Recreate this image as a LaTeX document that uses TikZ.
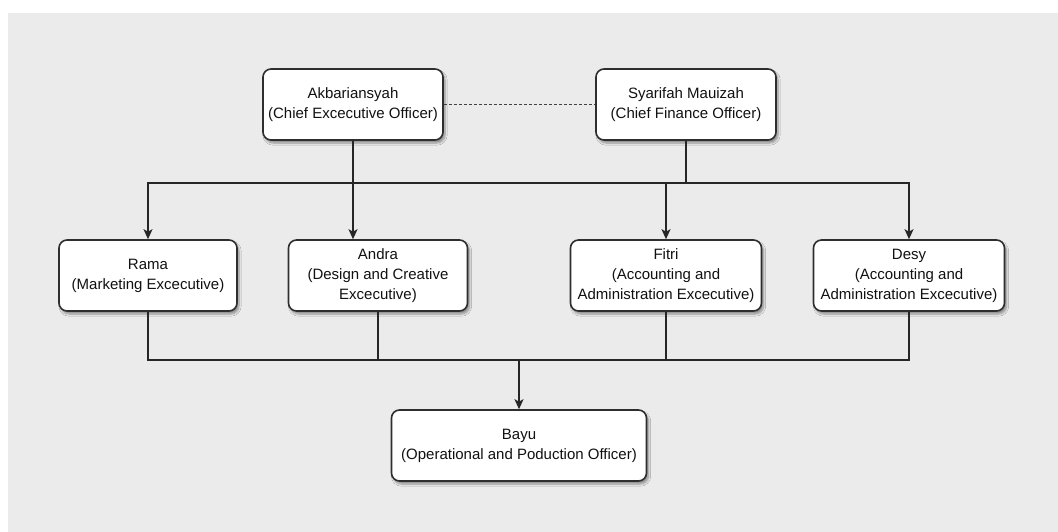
\documentclass[tikz,border=0pt]{standalone}
\usepackage{fontspec}
\setmainfont{Liberation Sans}
\usetikzlibrary{arrows.meta,shadows.blur,calc}
\definecolor{bg}{HTML}{EBEBEB}
\definecolor{boxline}{HTML}{2E2E2E}
\definecolor{txt}{HTML}{111111}
\tikzset{
  person/.style={draw=boxline, line width=1.6pt, fill=white, rounded corners=8pt,
    minimum height=71pt, align=center, inner sep=2pt, text=txt,
    font=\fontsize{15}{20}\selectfont,
    blur shadow={shadow xshift=2pt, shadow yshift=-3pt, shadow blur steps=6, shadow opacity=40}},
  link/.style={draw=black!85, line width=1.6pt},
  arr/.style={link, -{Stealth[length=10pt,width=9pt,inset=2.5pt]}},
  partner/.style={draw=black!75, line width=1.6pt, dash pattern=on 3pt off 2pt}
}
\begin{document}
\begin{tikzpicture}[x=1pt,y=-1pt]
\useasboundingbox (0,0) rectangle (1058,532);
\fill[white] (0,0) rectangle (1058,532);
\fill[bg] (8,13) rectangle (1058,532);

\node[person, minimum width=180pt] (ceo) at (353,104.5) {Akbariansyah\\(Chief Excecutive Officer)};
\node[person, minimum width=180pt] (cfo) at (686,104.5) {Syarifah Mauizah\\(Chief Finance Officer)};
\node[person, minimum width=178pt] (rama) at (148,275.5) {Rama\\(Marketing Excecutive)};
\node[person, minimum width=179pt] (andra) at (378,275.5) {Andra\\(Design and Creative\\Excecutive)};
\node[person, minimum width=191pt] (fitri) at (666,275.5) {Fitri\\(Accounting and\\Administration Excecutive)};
\node[person, minimum width=191pt] (desy) at (909,275.5) {Desy\\(Accounting and\\Administration Excecutive)};
\node[person, minimum width=255pt] (bayu) at (519,445.5) {Bayu\\(Operational and Poduction Officer)};

\coordinate (bt) at (0,183);
\coordinate (bb) at (0,360);

\draw[partner] (ceo.east) -- (cfo.west);

\draw[arr] (ceo.south) |- (rama.north |- bt) -- (rama.north);
\draw[arr] (ceo.south) -- (ceo.south |- andra.north);
\draw[link] (ceo.south |- bt) -- (fitri.north |- bt);
\draw[arr] (cfo.south) |- (fitri.north |- bt) -- (fitri.north);
\draw[arr] (cfo.south) |- (desy.north |- bt) -- (desy.north);

\draw[link] (rama.south) |- (desy.south |- bb) -- (desy.south);
\draw[link] (andra.south) -- (andra.south |- bb);
\draw[link] (fitri.south) -- (fitri.south |- bb);
\draw[arr] (bayu.north |- bb) -- (bayu.north);
\end{tikzpicture}
\end{document}
